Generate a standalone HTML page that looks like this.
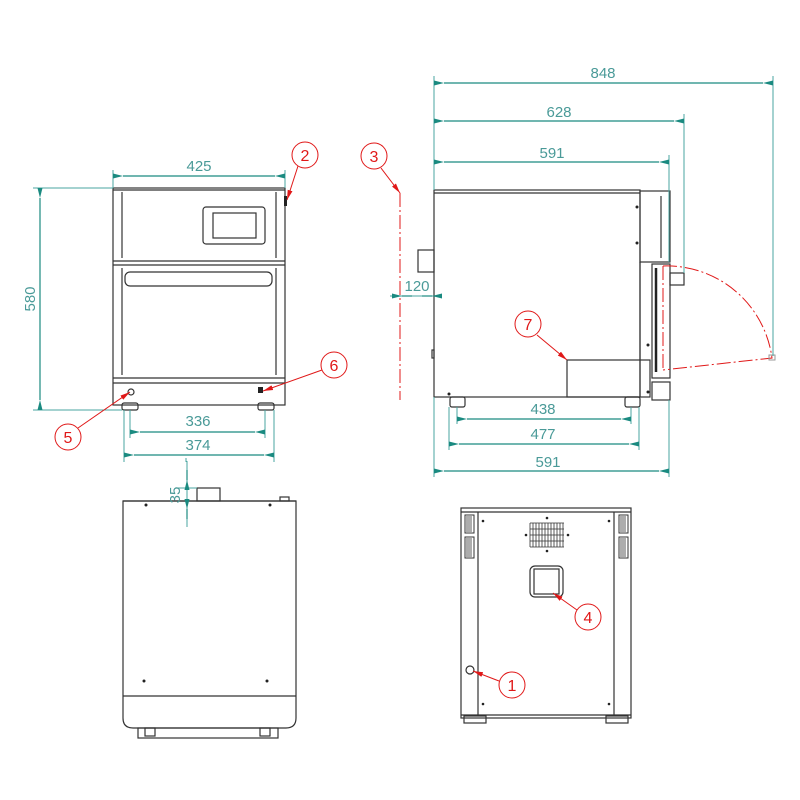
<!DOCTYPE html>
<html><head><meta charset="utf-8"><style>html,body{margin:0;padding:0;background:#fff}svg{display:block}</style></head>
<body>
<svg width="800" height="800" viewBox="0 0 800 800" xmlns="http://www.w3.org/2000/svg">
<defs>
<marker id="a" viewBox="0 0 10 6" refX="0" refY="3" markerWidth="10" markerHeight="6" orient="auto-start-reverse" markerUnits="userSpaceOnUse"><path d="M0,3 L10,0.5 L10,5.5 Z" fill="#1a8a80"/></marker>
<marker id="r" viewBox="0 0 10 6" refX="10" refY="3" markerWidth="10" markerHeight="6" orient="auto" markerUnits="userSpaceOnUse"><path d="M0,0.5 L10,3 L0,5.5 Z" fill="#e01818"/></marker>
</defs>
<style>
.b{fill:none;stroke:#333;stroke-width:1.2}
.t{fill:none;stroke:#4aa6a0;stroke-width:1}
.d{fill:none;stroke:#1a8a80;stroke-width:1.2}
.rd{fill:none;stroke:#e01818;stroke-width:1}
.c{fill:#fff;stroke:#e01818;stroke-width:1}
text{font-family:"Liberation Sans",sans-serif;font-size:15px;fill:#4a9a98;text-anchor:middle}
.n{fill:#e01818;font-size:16px}
</style>

<!-- FRONT VIEW -->
<rect class="b" x="113" y="188" width="172" height="217"/>
<line class="b" x1="113" y1="190" x2="285" y2="190" stroke-width="2"/>
<line class="b" x1="113" y1="261" x2="285" y2="261" stroke-width="2"/>
<line class="b" x1="113" y1="265" x2="285" y2="265"/>
<line class="b" x1="122" y1="192" x2="122" y2="258"/><line class="b" x1="276" y1="192" x2="276" y2="258"/>
<line class="b" x1="122" y1="268" x2="122" y2="375"/><line class="b" x1="276" y1="268" x2="276" y2="375"/>
<rect class="b" x="203" y="207" width="62" height="37" rx="3"/>
<rect class="b" x="213" y="213" width="43" height="25"/>
<rect class="b" x="125" y="272" width="147" height="14" rx="5"/>
<line class="b" x1="113" y1="378" x2="285" y2="378" stroke-width="2"/>
<line class="b" x1="113" y1="383" x2="285" y2="383"/>
<rect class="b" x="122" y="403" width="16" height="7" rx="2"/>
<rect class="b" x="258" y="403" width="16" height="7" rx="2"/>
<circle class="b" cx="131" cy="392" r="3"/>
<rect x="258" y="387" width="5" height="6" fill="#222"/>
<rect x="284" y="196" width="3" height="10" fill="#222"/>
<!-- front dims -->
<line class="t" x1="113" y1="170" x2="113" y2="188"/><line class="t" x1="285" y1="170" x2="285" y2="188"/>
<line class="d" x1="123" y1="176" x2="275" y2="176" marker-start="url(#a)" marker-end="url(#a)"/>
<text x="199" y="171">425</text>
<line class="t" x1="33" y1="188" x2="113" y2="188"/><line class="t" x1="33" y1="410" x2="122" y2="410"/>
<line class="d" x1="40" y1="198" x2="40" y2="400" marker-start="url(#a)" marker-end="url(#a)"/>
<text x="0" y="0" transform="translate(35,299) rotate(-90)">580</text>
<line class="t" x1="130" y1="410" x2="130" y2="438"/><line class="t" x1="265" y1="410" x2="265" y2="438"/>
<line class="t" x1="124" y1="410" x2="124" y2="462"/><line class="t" x1="274" y1="410" x2="274" y2="462"/>
<line class="t" x1="186" y1="458" x2="186" y2="462"/>
<line class="d" x1="140" y1="432" x2="255" y2="432" marker-start="url(#a)" marker-end="url(#a)"/>
<text x="198" y="426">336</text>
<line class="d" x1="134" y1="455" x2="264" y2="455" marker-start="url(#a)" marker-end="url(#a)"/>
<text x="198" y="450">374</text>
<!-- balloons front -->
<line class="rd" x1="298" y1="166" x2="287" y2="200" marker-end="url(#r)"/>
<circle class="c" cx="305" cy="155" r="13"/><text class="n" x="305" y="161">2</text>
<line class="rd" x1="78" y1="428" x2="130" y2="392" marker-end="url(#r)"/>
<circle class="c" cx="68" cy="437" r="13"/><text class="n" x="68" y="443">5</text>
<line class="rd" x1="322" y1="370" x2="263" y2="391" marker-end="url(#r)"/>
<circle class="c" cx="334" cy="365" r="13"/><text class="n" x="334" y="371">6</text>

<!-- SIDE VIEW -->
<line class="rd" x1="381" y1="168" x2="400" y2="193" marker-end="url(#r)"/>
<circle class="c" cx="374" cy="156" r="13"/><text class="n" x="374" y="162">3</text>
<line class="rd" x1="400" y1="193" x2="400" y2="400" stroke-dasharray="14,3,2,3"/>
<rect class="b" x="434" y="190" width="206" height="207"/>
<line class="b" x1="434" y1="193" x2="640" y2="193"/>
<rect class="b" x="640" y="191" width="30" height="71"/>
<line class="b" x1="661" y1="196" x2="661" y2="258"/>
<line class="b" x1="640" y1="262" x2="640" y2="397"/>
<rect class="b" x="652" y="264" width="18" height="114"/>
<line x1="656" y1="268" x2="656" y2="372" stroke="#222" stroke-width="2.5"/>
<rect class="b" x="670" y="273" width="14" height="12"/>
<rect class="b" x="652" y="382" width="18" height="18"/>
<rect class="b" x="418" y="250" width="16" height="22"/>
<rect class="b" x="432" y="350" width="2" height="8"/>
<rect class="b" x="567" y="360" width="83" height="37"/>
<rect class="b" x="450" y="397" width="15" height="10" rx="2"/>
<rect class="b" x="625" y="397" width="15" height="10" rx="2"/>
<circle cx="637" cy="207" r="1.5" fill="#222"/><circle cx="637" cy="243" r="1.5" fill="#222"/><circle cx="449" cy="394" r="1.5" fill="#222"/><circle cx="648" cy="345" r="1.5" fill="#222"/><circle cx="648" cy="392" r="1.5" fill="#222"/>
<path class="rd" d="M663,266 A106,106 0 0 1 772,358 L663,370" stroke-dasharray="14,3,2,3"/>
<line class="rd" x1="663" y1="266" x2="663" y2="370" stroke-dasharray="14,3,2,3"/>
<rect x="769" y="355" width="6" height="5" fill="none" stroke="#999"/>
<!-- side dims -->
<line class="t" x1="434" y1="76" x2="434" y2="190"/>
<line class="t" x1="773" y1="76" x2="773" y2="356"/>
<line class="t" x1="684" y1="114" x2="684" y2="273"/>
<line class="t" x1="669" y1="155" x2="669" y2="262"/>
<line class="d" x1="444" y1="83" x2="763" y2="83" marker-start="url(#a)" marker-end="url(#a)"/>
<text x="603" y="78">848</text>
<line class="d" x1="444" y1="121" x2="674" y2="121" marker-start="url(#a)" marker-end="url(#a)"/>
<text x="559" y="117">628</text>
<line class="d" x1="444" y1="162" x2="659" y2="162" marker-start="url(#a)" marker-end="url(#a)"/>
<text x="552" y="158">591</text>
<line class="t" x1="390" y1="296" x2="434" y2="296"/>
<line class="d" x1="412" y1="296" x2="402" y2="296" marker-end="url(#a)"/>
<line class="d" x1="422" y1="296" x2="432" y2="296" marker-end="url(#a)"/>
<text x="417" y="291">120</text>
<line class="rd" x1="537" y1="335" x2="567" y2="360" marker-end="url(#r)"/>
<circle class="c" cx="528" cy="324" r="13"/><text class="n" x="528" y="330">7</text>
<line class="t" x1="457" y1="407" x2="457" y2="424"/><line class="t" x1="631" y1="407" x2="631" y2="424"/>
<line class="t" x1="449" y1="407" x2="449" y2="450"/><line class="t" x1="639" y1="407" x2="639" y2="450"/>
<line class="t" x1="434" y1="397" x2="434" y2="477"/><line class="t" x1="669" y1="400" x2="669" y2="477"/>
<line class="d" x1="467" y1="419" x2="621" y2="419" marker-start="url(#a)" marker-end="url(#a)"/>
<text x="543" y="414">438</text>
<line class="d" x1="459" y1="444" x2="629" y2="444" marker-start="url(#a)" marker-end="url(#a)"/>
<text x="543" y="439">477</text>
<line class="d" x1="444" y1="471" x2="659" y2="471" marker-start="url(#a)" marker-end="url(#a)"/>
<text x="548" y="467">591</text>

<!-- TOP VIEW -->
<path class="b" d="M123,501 L296,501 L296,718 Q296,728 286,728 L133,728 Q123,728 123,718 Z"/>
<line class="b" x1="123" y1="501" x2="296" y2="501" stroke-width="2"/>
<line class="b" x1="123" y1="696" x2="296" y2="696" stroke-width="1.6"/>
<rect class="b" x="197" y="488" width="23" height="13"/>
<rect class="b" x="280" y="497" width="9" height="4"/>
<rect class="b" x="138" y="728" width="140" height="10"/>
<rect class="b" x="145" y="728" width="10" height="8"/><rect class="b" x="260" y="728" width="10" height="8"/>
<circle cx="146" cy="505" r="1.5" fill="#222"/><circle cx="270" cy="505" r="1.5" fill="#222"/><circle cx="144" cy="681" r="1.5" fill="#222"/><circle cx="267" cy="681" r="1.5" fill="#222"/>
<line class="t" x1="176" y1="488" x2="197" y2="488"/>
<line class="t" x1="187" y1="461" x2="187" y2="527"/>
<line class="d" x1="187" y1="470" x2="187" y2="480" marker-end="url(#a)"/>
<line class="d" x1="187" y1="519" x2="187" y2="509" marker-end="url(#a)"/>
<text x="0" y="0" transform="translate(180,495) rotate(-90)">35</text>

<!-- REAR VIEW -->
<rect class="b" x="461" y="508" width="170" height="210"/>
<line class="b" x1="461" y1="512" x2="631" y2="512"/>
<line class="b" x1="478" y1="512" x2="478" y2="715" stroke-width="1.6"/>
<line class="b" x1="614" y1="512" x2="614" y2="715" stroke-width="1.6"/>
<line class="b" x1="461" y1="715" x2="631" y2="715" stroke-width="1.6"/>
<g stroke="#333" stroke-width="1">
<rect x="465" y="515" width="9" height="18" fill="none"/><rect x="465" y="537" width="9" height="21" fill="none"/>
<rect x="619" y="515" width="9" height="18" fill="none"/><rect x="619" y="537" width="9" height="21" fill="none"/>
</g>
<g stroke="#333" stroke-width="0.8">
<path d="M467,516v16M469,516v16M471,516v16M467,538v19M469,538v19M471,538v19M621,516v16M623,516v16M625,516v16M621,538v19M623,538v19M625,538v19"/>
<path d="M530,523v24M533,523v24M536,523v24M539,523v24M542,523v24M545,523v24M548,523v24M551,523v24M554,523v24M557,523v24M560,523v24M563,523v24M530,523h34M530,529h34M530,535h34M530,541h34M530,547h34" fill="none"/>
</g>
<rect class="b" x="530" y="566" width="33" height="31" rx="5"/>
<rect class="b" x="534" y="569" width="25" height="25"/>
<circle cx="483" cy="521" r="1.3" fill="#222"/><circle cx="609" cy="521" r="1.3" fill="#222"/><circle cx="483" cy="704" r="1.3" fill="#222"/><circle cx="609" cy="704" r="1.3" fill="#222"/>
<circle cx="547" cy="518" r="1.3" fill="#222"/><circle cx="547" cy="551" r="1.3" fill="#222"/><circle cx="526" cy="535" r="1.3" fill="#222"/><circle cx="568" cy="535" r="1.3" fill="#222"/>
<circle class="b" cx="470" cy="670" r="4"/>
<rect class="b" x="464" y="716" width="22" height="7"/><rect class="b" x="606" y="716" width="22" height="7"/>
<line class="rd" x1="577" y1="610" x2="553" y2="593" marker-end="url(#r)"/>
<circle class="c" cx="588" cy="617" r="13"/><text class="n" x="588" y="623">4</text>
<line class="rd" x1="499" y1="681" x2="473" y2="671" marker-end="url(#r)"/>
<circle class="c" cx="512" cy="685" r="13"/><text class="n" x="512" y="691">1</text>
</svg>
</body></html>
